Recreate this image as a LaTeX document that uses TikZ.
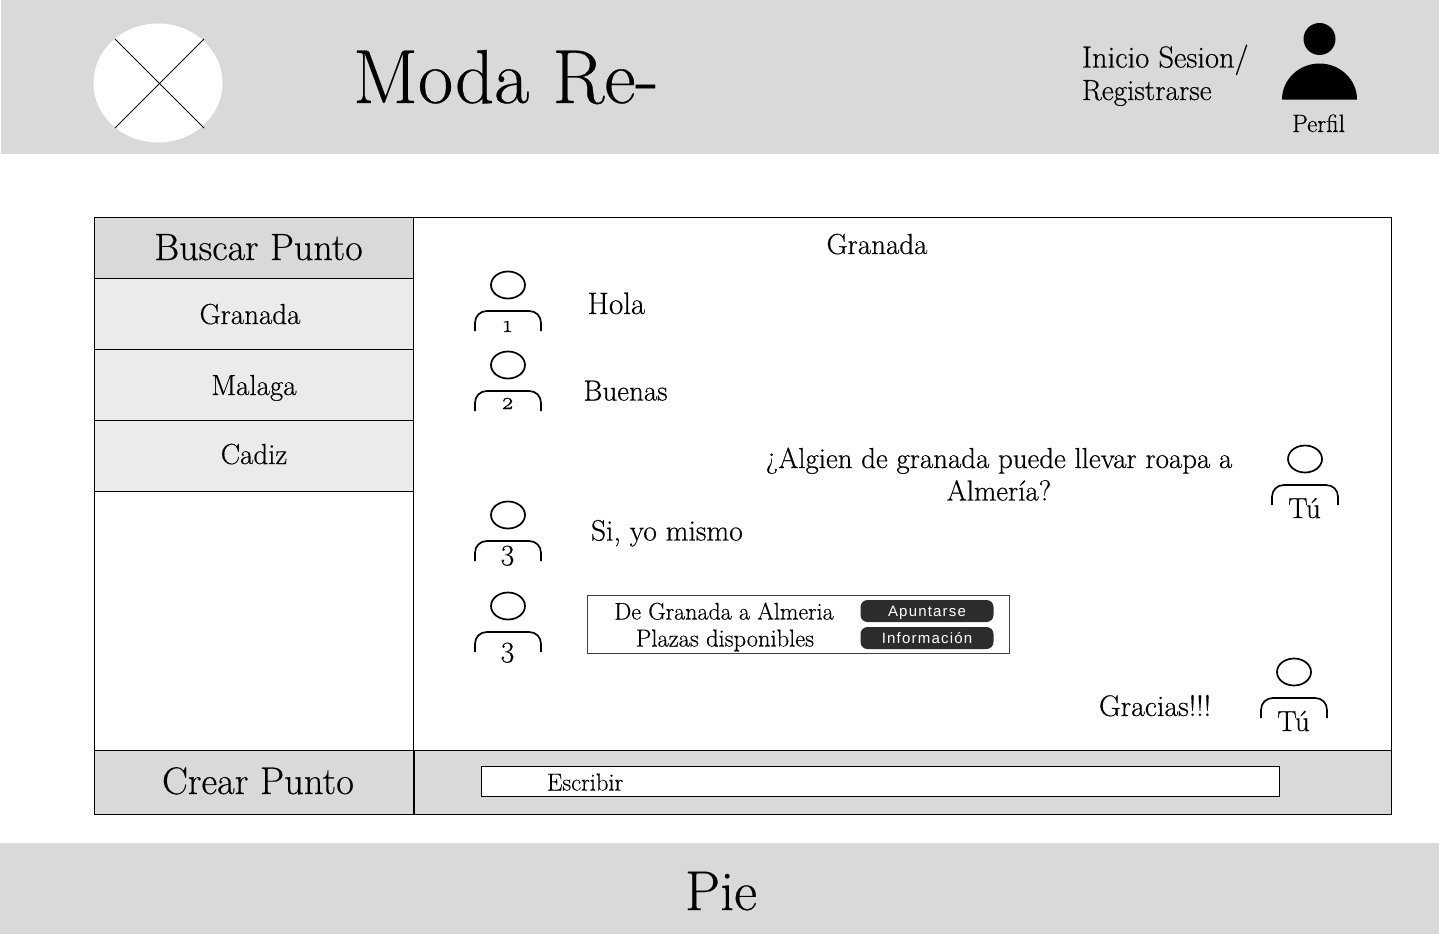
\documentclass[tikz,border=0pt]{standalone}
\usepackage{fontspec}
\setmainfont[FakeBold=0.4,Numbers=OldStyle]{Latin Modern Roman}
\newfontfamily\btnfont[LetterSpace=8]{Liberation Sans}
\newcommand{\fsz}[1]{\fontsize{#1}{#1}\selectfont}
\newcommand{\persona}[6]{%
  \node[headshape] (#1h) at (#2,#3) {};
  \draw[archline] (#2-33,#3+46) -- (#2-33,#3+38) .. controls (#2-33,#3+31) and (#2-28,#3+26) .. (#2-21,#3+26) -- (#2+21,#3+26) .. controls (#2+28,#3+26) and (#2+33,#3+31) .. (#2+33,#3+38) -- (#2+33,#3+46);
  \node[txt,font=\fsz{#5}] (#1l) at (#2-0.5,#3+#6) {#4};
}
\tikzset{
  txt/.style={inner sep=0pt,outer sep=0pt,anchor=base,text=black},
  ltxt/.style={txt,anchor=base west},
  panel/.style={fill=#1,draw=black,line width=1pt},
  headshape/.style={ellipse,draw=black,line width=1.7pt,fill=none,minimum width=34pt,minimum height=27pt,inner sep=0pt},
  archline/.style={draw=black,line width=1.7pt},
  btn/.style={fill=btngray,draw=none,rounded corners=7pt,minimum width=133pt,minimum height=22pt,inner sep=0pt,text=white,font=\btnfont\fsz{15}},
}
\definecolor{hdrgray}{HTML}{D9D9D9}
\definecolor{itemgray}{HTML}{EBEBEB}
\definecolor{btngray}{HTML}{2C2C2C}
\usetikzlibrary{shapes.geometric}
\begin{document}
\begin{tikzpicture}[x=1pt,y=-1pt]
\useasboundingbox (0,0) rectangle (1439,934);
\fill[white] (0,0) rectangle (1439,934);
% header and footer
\fill[hdrgray] (1,0) rectangle (1439,154);
\fill[hdrgray] (0,843) rectangle (1439,934);
% logo
\fill[white] (158,83) ellipse [x radius=64.5,y radius=59.5];
\draw[line width=1pt] (115,39) -- (204,128);
\draw[line width=1pt] (204,39) -- (115,128);
\node[ltxt,font=\fsz{76.5}] (title) at (353,103) {Moda Re-};
\node[ltxt,font=\fsz{30.5}] (login1) at (1082,67.5) {Inicio Sesion/};
\node[ltxt,font=\fsz{29.2}] (login2) at (1082,100) {Registrarse};
\fill[black] (1319.5,39) circle [radius=16];
\fill[black] (1282,99.5) arc [start angle=180,end angle=360,x radius=37.5,y radius=36] -- cycle;
\node[txt,font=\fsz{25}] (perfil) at (1318.5,132) {Perfil};
% frame
\draw[panel=white] (94.5,217.5) rectangle (1391.5,814);
\draw[panel=hdrgray] (94.5,217.5) rectangle (413.5,278);
\draw[panel=itemgray] (94.5,278) rectangle (413.5,349);
\draw[panel=itemgray] (94.5,349) rectangle (413.5,420);
\draw[panel=itemgray] (94.5,420) rectangle (413.5,491);
\draw[line width=1pt] (413.5,491) -- (413.5,750.5);
\draw[panel=hdrgray] (94.5,750.5) rectangle (1391.5,814);
\draw[line width=1.6pt] (414,750.5) -- (414,814);
\node[txt,font=\fsz{38}] (buscar) at (258.5,260) {Buscar Punto};
\node[txt,font=\fsz{29}] (s1) at (250,324) {Granada};
\node[txt,font=\fsz{29}] (s2) at (254,395) {Malaga};
\node[txt,font=\fsz{29}] (s3) at (254,464) {Cadiz};
\node[txt,font=\fsz{38.5}] (crear) at (258,794) {Crear Punto};
\draw[fill=white,draw=black,line width=0.9pt] (481,766.5) rectangle (1279,796.5);
\node[ltxt,font=\fsz{24.5}] (escribir) at (547,790.5) {Escribir};
\node[txt,font=\fsz{29}] (head) at (877,254) {Granada};
% people
\persona{p1}{508}{285}{1}{24}{47}
\persona{p2}{508}{365}{2}{24}{44}
\persona{p3}{508}{515}{3}{30}{44.5}
\persona{p4}{508}{606}{3}{30}{50.5}
\persona{p5}{1305}{459}{Tú}{29}{59}
\persona{p6}{1294}{672}{Tú}{29}{59}
% messages
\node[ltxt,font=\fsz{31}] (m1) at (587.5,314) {Hola};
\node[ltxt,font=\fsz{29}] (m2) at (583.5,400.5) {Buenas};
\node[txt,font=\fsz{28.9}] (m3a) at (999,468) {¿Algien de granada puede llevar roapa a};
\node[txt,font=\fsz{28.9}] (m3b) at (999,500.5) {Almería?};
\node[ltxt,font=\fsz{29.5}] (m4) at (591,540.5) {Si, yo mismo};
\node[ltxt,font=\fsz{29.8}] (m5) at (1099,716) {Gracias!!!};
% card
\draw[fill=white,draw=black!75,line width=1pt] (587,595.5) rectangle (1009,653);
\node[txt,font=\fsz{24}] (c1) at (724,619.5) {De Granada a Almeria};
\node[txt,font=\fsz{24.5}] (c2) at (725,646.5) {Plazas disponibles};
\node[btn] (b1) at (927,611) {\raisebox{-5.5pt}[0pt][0pt]{Apuntarse}};
\node[btn] (b2) at (927,638) {\raisebox{-5.5pt}[0pt][0pt]{Información}};
% footer
\node[txt,font=\fsz{56}] (pie) at (721,910) {Pie};
\end{tikzpicture}
\end{document}
